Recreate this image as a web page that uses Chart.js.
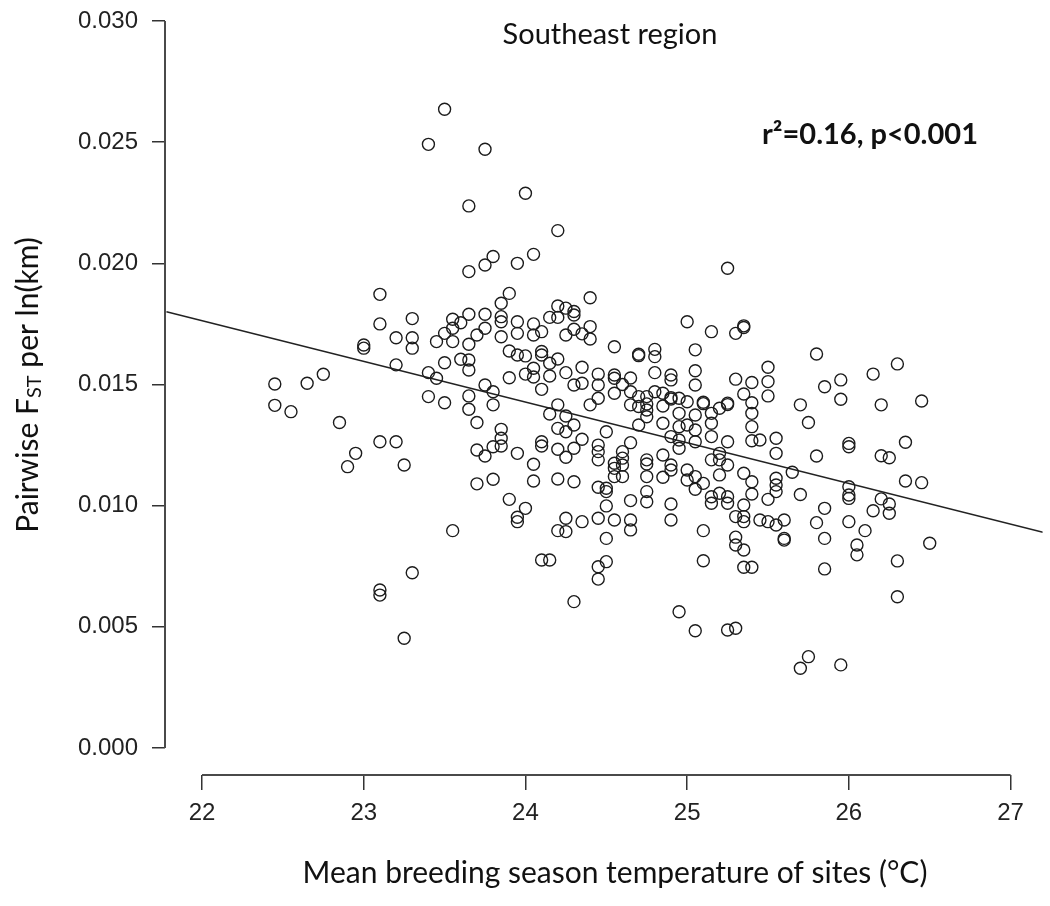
<!DOCTYPE html>
<html>
<head>
<meta charset="utf-8">
<script src="https://cdn.jsdelivr.net/npm/chart.js@4.4.0/dist/chart.umd.min.js"></script>
<style>
  html, body { margin: 0; padding: 0; background: #fff; }
  #wrap { width: 1050px; height: 906px; }
</style>
</head>
<body>
<div id="wrap"><canvas id="c" width="1050" height="906"></canvas></div>
<script>
// === DATA ===
// mean breeding season temperature of the site pair (°C)
const temp = [
  23.50, 23.40, 23.10, 23.10, 23.30, 23.20, 23.30, 23.30, 23.45, 23.50,
  23.00, 23.00, 23.20, 23.50, 23.40, 23.45, 22.75, 22.65, 22.45, 22.45,
  22.55, 22.85, 23.40, 23.50, 23.10, 23.20, 22.95, 22.90, 23.25, 23.30,
  23.10, 23.10, 23.25, 23.75, 24.00, 23.65, 24.20, 23.80, 23.75, 23.65,
  23.95, 24.05, 23.90, 23.85, 24.40, 24.20, 24.25, 24.30, 24.15, 24.20,
  24.30, 23.55, 23.65, 23.75, 23.85, 23.85, 23.60, 23.95, 24.05, 23.75,
  23.55, 23.70, 23.85, 23.95, 24.05, 24.10, 24.25, 24.30, 24.35, 24.40,
  24.40, 23.55, 23.65, 24.55, 23.90, 23.95, 24.00, 24.10, 24.10, 24.20,
  23.60, 23.65, 23.65, 24.15, 24.05, 24.00, 24.05, 23.90, 24.15, 24.25,
  24.35, 24.45, 24.55, 24.55, 24.65, 24.60, 23.75, 24.30, 24.35, 24.45,
  24.10, 23.80, 23.65, 23.65, 23.80, 23.70, 24.55, 24.45, 24.40, 24.20,
  24.15, 24.25, 24.30, 24.20, 24.25, 24.50, 24.35, 23.85, 23.85, 23.85,
  23.80, 23.70, 23.75, 23.95, 24.10, 24.10, 24.20, 24.30, 24.25, 24.45,
  24.45, 24.45, 24.05, 24.55, 24.55, 24.55, 23.70, 23.80, 24.05, 24.20,
  24.30, 24.45, 24.50, 24.50, 23.90, 24.00, 23.95, 23.95, 24.50, 24.25,
  24.35, 24.45, 24.55, 24.20, 24.25, 23.55, 24.50, 24.10, 24.15, 24.50,
  24.45, 24.45, 24.30, 25.25, 25.00, 25.15, 25.30, 25.35, 25.35, 24.70,
  24.70, 24.80, 24.80, 25.05, 24.80, 24.90, 24.90, 25.05, 25.05, 25.30,
  25.40, 25.50, 25.50, 25.50, 25.35, 25.40, 25.40, 25.40, 24.65, 24.70,
  24.75, 24.80, 24.85, 24.90, 24.90, 24.95, 25.00, 25.10, 25.10, 25.20,
  25.25, 25.25, 24.65, 24.70, 24.75, 24.75, 24.85, 24.95, 25.05, 25.15,
  24.75, 24.85, 24.95, 25.00, 25.05, 25.15, 24.70, 24.90, 24.95, 25.05,
  25.15, 25.25, 25.40, 25.45, 25.55, 24.65, 24.60, 24.60, 24.60, 24.60,
  24.75, 24.75, 24.75, 24.75, 24.75, 24.85, 24.85, 24.90, 24.90, 24.95,
  25.00, 25.00, 25.05, 25.10, 25.05, 25.15, 25.20, 25.20, 25.25, 25.20,
  25.15, 25.15, 25.20, 25.25, 25.25, 25.55, 25.35, 25.40, 25.40, 25.50,
  25.55, 25.55, 25.55, 25.35, 25.30, 25.35, 25.35, 25.45, 25.50, 25.55,
  25.60, 25.60, 25.60, 24.65, 24.90, 24.90, 24.65, 24.65, 25.10, 25.30,
  25.30, 25.35, 25.10, 25.35, 25.40, 24.95, 25.05, 25.25, 25.30, 25.80,
  26.30, 26.15, 25.95, 25.85, 25.95, 26.20, 26.45, 25.70, 25.75, 26.00,
  26.00, 26.35, 25.80, 26.20, 26.25, 25.65, 26.00, 26.00, 26.35, 26.45,
  25.70, 26.20, 26.00, 26.25, 26.25, 26.15, 25.85, 25.80, 26.00, 26.10,
  25.85, 26.05, 26.05, 26.50, 26.30, 25.85, 26.30, 25.75, 25.70, 25.95
];
// pairwise FST per ln(km)
const fst = [
  0.02636, 0.02491, 0.01872, 0.01750, 0.01772, 0.01693, 0.01693, 0.01650, 0.01677, 0.01711,
  0.01663, 0.01650, 0.01581, 0.01590, 0.01549, 0.01526, 0.01542, 0.01505, 0.01502, 0.01414,
  0.01388, 0.01343, 0.01450, 0.01425, 0.01264, 0.01264, 0.01216, 0.01161, 0.01168, 0.00723,
  0.00652, 0.00631, 0.00453, 0.02471, 0.02289, 0.02237, 0.02135, 0.02028, 0.01993, 0.01966,
  0.02000, 0.02037, 0.01876, 0.01835, 0.01858, 0.01824, 0.01815, 0.01801, 0.01777, 0.01777,
  0.01787, 0.01769, 0.01790, 0.01790, 0.01780, 0.01759, 0.01755, 0.01759, 0.01750, 0.01732,
  0.01732, 0.01704, 0.01697, 0.01711, 0.01704, 0.01718, 0.01704, 0.01728, 0.01709, 0.01739,
  0.01688, 0.01677, 0.01666, 0.01656, 0.01638, 0.01622, 0.01618, 0.01636, 0.01622, 0.01605,
  0.01604, 0.01601, 0.01560, 0.01588, 0.01567, 0.01543, 0.01531, 0.01528, 0.01535, 0.01549,
  0.01571, 0.01543, 0.01539, 0.01526, 0.01527, 0.01500, 0.01498, 0.01498, 0.01505, 0.01498,
  0.01480, 0.01470, 0.01453, 0.01398, 0.01416, 0.01343, 0.01464, 0.01443, 0.01416, 0.01416,
  0.01378, 0.01370, 0.01333, 0.01319, 0.01305, 0.01305, 0.01274, 0.01315, 0.01278, 0.01246,
  0.01243, 0.01230, 0.01205, 0.01216, 0.01264, 0.01246, 0.01233, 0.01237, 0.01200, 0.01250,
  0.01223, 0.01189, 0.01171, 0.01175, 0.01154, 0.01120, 0.01090, 0.01109, 0.01102, 0.01110,
  0.01099, 0.01076, 0.01072, 0.01058, 0.01026, 0.00989, 0.00952, 0.00934, 0.00999, 0.00948,
  0.00934, 0.00948, 0.00941, 0.00897, 0.00893, 0.00897, 0.00865, 0.00776, 0.00776, 0.00769,
  0.00748, 0.00697, 0.00604, 0.01980, 0.01759, 0.01718, 0.01711, 0.01742, 0.01735, 0.01625,
  0.01619, 0.01645, 0.01615, 0.01643, 0.01549, 0.01539, 0.01519, 0.01557, 0.01498, 0.01522,
  0.01508, 0.01571, 0.01512, 0.01453, 0.01461, 0.01425, 0.01381, 0.01326, 0.01470, 0.01450,
  0.01450, 0.01470, 0.01464, 0.01446, 0.01440, 0.01443, 0.01429, 0.01427, 0.01421, 0.01402,
  0.01423, 0.01417, 0.01416, 0.01409, 0.01420, 0.01395, 0.01411, 0.01381, 0.01374, 0.01381,
  0.01367, 0.01340, 0.01326, 0.01333, 0.01312, 0.01340, 0.01333, 0.01285, 0.01271, 0.01264,
  0.01285, 0.01264, 0.01268, 0.01271, 0.01278, 0.01260, 0.01223, 0.01196, 0.01168, 0.01120,
  0.01189, 0.01172, 0.01120, 0.01058, 0.01016, 0.01209, 0.01117, 0.01168, 0.01147, 0.01237,
  0.01147, 0.01106, 0.01120, 0.01092, 0.01068, 0.01189, 0.01216, 0.01189, 0.01168, 0.01127,
  0.01037, 0.01010, 0.01051, 0.01037, 0.01010, 0.01216, 0.01134, 0.01099, 0.01048, 0.01026,
  0.01113, 0.01085, 0.01058, 0.01003, 0.00955, 0.00955, 0.00934, 0.00941, 0.00934, 0.00920,
  0.00941, 0.00865, 0.00858, 0.01021, 0.01007, 0.00941, 0.00941, 0.00900, 0.00897, 0.00870,
  0.00838, 0.00817, 0.00773, 0.00746, 0.00746, 0.00562, 0.00484, 0.00487, 0.00494, 0.01626,
  0.01585, 0.01543, 0.01519, 0.01491, 0.01439, 0.01416, 0.01432, 0.01416, 0.01343, 0.01257,
  0.01243, 0.01262, 0.01205, 0.01206, 0.01198, 0.01138, 0.01078, 0.01044, 0.01102, 0.01095,
  0.01046, 0.01028, 0.01030, 0.01007, 0.00969, 0.00979, 0.00989, 0.00930, 0.00934, 0.00897,
  0.00865, 0.00838, 0.00797, 0.00845, 0.00772, 0.00739, 0.00624, 0.00377, 0.00329, 0.00343
];
// fitted regression line, read at the plot edges
const fitX = [21.78, 27.20];
const fitY = [0.0180, 0.0089];

const xTicks = [22, 23, 24, 25, 26, 27];
const yTicks = [0.000, 0.005, 0.010, 0.015, 0.020, 0.025, 0.030];

const titleText = 'Southeast region';
const statText = 'r\u00B2=0.16, p<0.001';
const xTitle = 'Mean breeding season temperature of sites (\u00B0C)';

// === R-STYLE AXES + TEXT ===
const rAxes = {
    id: 'rAxes',
    afterDraw(chart) {
        const { ctx, chartArea: a, scales: { x, y } } = chart;
        ctx.save();
        // axis lines only span first..last tick, like base R
        ctx.strokeStyle = '#4a4a4a';
        ctx.lineWidth = 2;
        ctx.beginPath();
        ctx.moveTo(a.left, y.getPixelForValue(yTicks[0]));
        ctx.lineTo(a.left, y.getPixelForValue(yTicks[yTicks.length - 1]));
        ctx.moveTo(x.getPixelForValue(xTicks[0]), a.bottom);
        ctx.lineTo(x.getPixelForValue(xTicks[xTicks.length - 1]), a.bottom);
        ctx.stroke();

        ctx.fillStyle = '#111';
        ctx.textBaseline = 'middle';

        // panel title
        ctx.font = '29px Lato';
        ctx.textAlign = 'center';
        ctx.fillText(titleText, 610, 35);

        // stats
        ctx.font = 'bold 29px Lato';
        ctx.textAlign = 'left';
        ctx.fillText(statText, 762, 135);

        // x title
        ctx.font = '30px Lato';
        ctx.textAlign = 'center';
        ctx.fillText(xTitle, 615, 873);

        // y title with subscript ST
        ctx.translate(28, 385);
        ctx.rotate(-Math.PI / 2);
        const parts = [
            { t: 'Pairwise F', f: '30px Lato', dy: 0 },
            { t: 'ST', f: '20px Lato', dy: 7 },
            { t: ' per ln(km)', f: '30px Lato', dy: 0 }
        ];
        let w = 0;
        parts.forEach(p => { ctx.font = p.f; w += ctx.measureText(p.t).width; });
        let cx = -w / 2;
        ctx.textAlign = 'left';
        parts.forEach(p => {
            ctx.font = p.f;
            ctx.fillText(p.t, cx, p.dy);
            cx += ctx.measureText(p.t).width;
        });
        ctx.restore();
    }
};

const tickFont = { family: 'Liberation Sans', size: 24 };

new Chart(document.getElementById('c'), {
    type: 'scatter',
    data: {
        datasets: [
            {
                label: 'site pairs',
                data: temp.map((t, i) => ({ x: t, y: fst[i] })),
                pointStyle: 'circle',
                pointRadius: 6,
                pointBorderWidth: 1.4,
                pointBorderColor: '#1c1c1c',
                pointBackgroundColor: 'rgba(0,0,0,0)',
                showLine: false
            },
            {
                type: 'line',
                label: 'fit',
                data: fitX.map((t, i) => ({ x: t, y: fitY[i] })),
                borderColor: '#222',
                borderWidth: 1.4,
                pointRadius: 0,
                fill: false
            }
        ]
    },
    options: {
        responsive: false,
        animation: false,
        devicePixelRatio: 1,
        layout: { padding: { top: 10, right: 2, left: 0, bottom: 0 } },
        plugins: { legend: { display: false }, tooltip: { enabled: false } },
        scales: {
            x: {
                type: 'linear',
                min: 21.771,
                max: 27.198,
                afterBuildTicks: s => { s.ticks = xTicks.map(v => ({ value: v })); },
                afterFit: s => { s.height = 131; s.paddingLeft = 0; s.paddingRight = 0; },
                border: { display: false },
                grid: { drawOnChartArea: false, drawTicks: true, tickLength: 15, color: '#333', lineWidth: 1.5 },
                ticks: { color: '#222', font: tickFont, padding: 9, maxRotation: 0, callback: v => String(v) }
            },
            y: {
                type: 'linear',
                min: -0.001114,
                max: 0.030454,
                afterBuildTicks: s => { s.ticks = yTicks.map(v => ({ value: v })); },
                afterFit: s => { s.width = 165; s.paddingTop = 0; s.paddingBottom = 0; },
                border: { display: false },
                grid: { drawOnChartArea: false, drawTicks: true, tickLength: 13, color: '#333', lineWidth: 1.5 },
                ticks: { color: '#222', font: tickFont, padding: 14, callback: v => Number(v).toFixed(3) }
            }
        }
    },
    plugins: [rAxes]
});
</script>
</body>
</html>
